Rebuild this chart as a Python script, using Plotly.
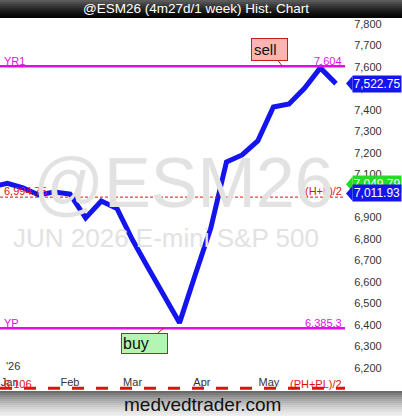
import plotly.graph_objects as go

# ---- data ----
week_dates = ["2025-12-28", "2026-01-04", "2026-01-11", "2026-01-18", "2026-01-25",
              "2026-02-01", "2026-02-08", "2026-02-15", "2026-02-22", "2026-03-01",
              "2026-03-08", "2026-03-15", "2026-03-22", "2026-03-29", "2026-04-05",
              "2026-04-12", "2026-04-19", "2026-04-26", "2026-05-03", "2026-05-10",
              "2026-05-17", "2026-05-24", "2026-05-31"]
closes = [7042, 7059, 7038, 7005, 7019, 7009, 6898, 6977, 6942, 6795, 6665, 6535,
          6410, 6633, 6851, 7158, 7191, 7256, 7414, 7428, 7502, 7596, 7522.75]

month_tick_dates = ["2026-01-05", "2026-02-01", "2026-03-01", "2026-04-01", "2026-05-01", "2026-06-01"]
month_tick_text = ["Jan", "Feb", "Mar", "Apr", "May", "Jun"]
price_ticks = [6200, 6300, 6400, 6500, 6600, 6700, 6800, 6900, 7000, 7100,
               7200, 7300, 7400, 7500, 7600, 7700, 7800]

yr1_value = 7604
yp_value = 6385.3
hl2_value = 6994.75
phpl2_value = 6106
last_value = 7522.75
tag2_value = 7011.93
tag3_value = 7049.79
sell_date, buy_date = "2026-05-07", "2026-03-15"

Y_RANGE = [6093, 7828]
X_RANGE = ["2025-12-31 16:30", "2026-06-04 01:00"]
PLOT_W, PLOT_H = 345, 373
UPP = (Y_RANGE[1] - Y_RANGE[0]) / PLOT_H  # price units per px

FONT = "Liberation Sans, Arial, sans-serif"
MAGENTA = "#e010e0"
RED = "#e01010"

fig = go.Figure()
fig.add_trace(go.Scatter(x=week_dates, y=closes, mode="lines",
                         line=dict(color="#1414ee", width=5), hoverinfo="skip"))

shapes = []
annotations = []

# title bar gradient
top_cols = ["#5a5a5a", "#4c4c4c", "#3e3e3e", "#323232", "#262626", "#1c1c1c", "#121212", "#0a0a0a", "#040404"]
for i, c in enumerate(top_cols):
    y0 = 1 + (18 - 2 * (i + 1)) / PLOT_H
    y1 = 1 + (18 - 2 * i) / PLOT_H
    shapes.append(dict(type="rect", xref="paper", yref="paper", x0=0, x1=402 / PLOT_W,
                       y0=y0, y1=y1, fillcolor=c, line=dict(width=0), layer="above"))
# footer gradient
foot_cols = ["#6a6a6a", "#7c7c7c", "#8c8c8c", "#9a9a9a", "#a8a8a8", "#b4b4b4", "#c0c0c0",
             "#cacaca", "#d4d4d4", "#dcdcdc", "#e4e4e4", "#eaeaea", "#f0f0f0"]
for i, c in enumerate(foot_cols):
    y1 = -(2 * i) / PLOT_H
    y0 = -(2 * (i + 1)) / PLOT_H
    shapes.append(dict(type="rect", xref="paper", yref="paper", x0=0, x1=402 / PLOT_W,
                       y0=y0, y1=y1, fillcolor=c, line=dict(width=0), layer="above"))

# horizontal level lines
shapes.append(dict(type="line", xref="paper", yref="y", x0=0, x1=1, y0=yr1_value, y1=yr1_value,
                   line=dict(color=MAGENTA, width=2.5)))
shapes.append(dict(type="line", xref="paper", yref="y", x0=0, x1=1, y0=yp_value, y1=yp_value,
                   line=dict(color=MAGENTA, width=2.5)))
shapes.append(dict(type="line", xref="paper", yref="y", x0=0, x1=1, y0=hl2_value, y1=hl2_value,
                   line=dict(color=RED, width=1, dash="3px,2px")))
shapes.append(dict(type="line", xref="paper", yref="y", x0=0, x1=1, y0=phpl2_value, y1=phpl2_value,
                   line=dict(color=RED, width=3, dash="12px,12px")))

def lvl_label(text, value, color, left, yshift=-2):
    annotations.append(dict(text=text, xref="paper", yref="y", x=(3 / PLOT_W) if left else (343 / PLOT_W),
                            xanchor="left" if left else "right", y=value, yanchor="bottom",
                            yshift=yshift, showarrow=False, borderpad=0,
                            font=dict(family=FONT, size=11, color=color)))

lvl_label("YR1", yr1_value, MAGENTA, True)
lvl_label(f"{yr1_value:,}", yr1_value, MAGENTA, False)
lvl_label("YP", yp_value, MAGENTA, True)
lvl_label(f"{yp_value:,}", yp_value, MAGENTA, False)
lvl_label(f"{hl2_value:,.2f}", hl2_value, RED, True, -1)
lvl_label("(H+L)/2", hl2_value, RED, False, -1)
lvl_label(f"{phpl2_value:,}", phpl2_value, RED, True, -3)
lvl_label("(PH+PL)/2", phpl2_value, RED, False, -3)

# watermark
annotations.append(dict(text="@ESM26", xref="paper", yref="paper", x=183 / PLOT_W, y=(391 - 183) / PLOT_H,
                        xanchor="center", yanchor="middle", showarrow=False,
                        font=dict(family=FONT, size=70, color="#e2e2e2")))
annotations.append(dict(text="JUN 2026 E-mini S&P 500", xref="paper", yref="paper", x=166 / PLOT_W,
                        y=(391 - 238) / PLOT_H, xanchor="center", yanchor="middle", showarrow=False,
                        font=dict(family=FONT, size=26, color="#e2e2e2")))

# title & footer text
annotations.append(dict(text="@ESM26 (4m27d/1 week) Hist. Chart", xref="paper", yref="paper",
                        x=196 / PLOT_W, y=1 + 9 / PLOT_H, xanchor="center", yanchor="middle",
                        showarrow=False, font=dict(family=FONT, size=13.5, color="white")))
annotations.append(dict(text="medvedtrader.com", xref="paper", yref="paper",
                        x=202 / PLOT_W, y=-13 / PLOT_H, xanchor="center", yanchor="middle",
                        showarrow=False, font=dict(family=FONT, size=19, color="#111111")))
annotations.append(dict(text="'26", xref="paper", yref="paper", x=4 / PLOT_W, y=(391 - 366) / PLOT_H,
                        xanchor="left", yanchor="middle", showarrow=False,
                        font=dict(family=FONT, size=11, color="#333333")))

# callouts
annotations.append(dict(text="sell", x=sell_date, y=yr1_value, xref="x", yref="y", showarrow=True,
                        ax=-13, ay=-17, arrowhead=0, arrowwidth=1, arrowcolor="#c02020",
                        bgcolor="#ffb4b4", bordercolor="#c02020", borderwidth=1, borderpad=2,
                        width=31, align="left",
                        font=dict(family=FONT, size=15, color="#111111")))
annotations.append(dict(text="buy", x=buy_date, y=yp_value, xref="x", yref="y", showarrow=True,
                        ax=-19, ay=15, arrowhead=0, arrowwidth=1, arrowcolor="#c02020",
                        bgcolor="#b4f5b4", bordercolor="#c02020", borderwidth=1, borderpad=1,
                        width=43, align="left",
                        font=dict(family=FONT, size=16, color="#111111")))

# right-side price tags
def tag(value, text, color, yshift=0):
    yc = value + yshift * UPP
    half = 7.5 * UPP
    shapes.append(dict(type="path", xref="paper", yref="y",
                       path=f"M {346 / PLOT_W},{yc} L {352.5 / PLOT_W},{yc + half} L {352.5 / PLOT_W},{yc - half} Z",
                       fillcolor=color, line=dict(width=0), layer="above"))
    annotations.append(dict(text=text, xref="paper", yref="y", x=352 / PLOT_W, y=value, yshift=yshift,
                            xanchor="left", yanchor="middle", showarrow=False, bgcolor=color,
                            borderpad=1, width=46, align="center",
                            font=dict(family=FONT, size=12, color="white")))

tag(tag3_value, f"{tag3_value:,.2f}", "#22dd22", 1)
tag(tag2_value, f"{tag2_value:,.2f}", "#1414ee")
tag(last_value, f"{last_value:,.2f}", "#1414ee")

fig.update_layout(
    width=402, height=416, margin=dict(l=0, r=57, t=18, b=25),
    paper_bgcolor="white", plot_bgcolor="white", showlegend=False,
    shapes=shapes, annotations=annotations,
    xaxis=dict(type="date", range=X_RANGE, showgrid=False, zeroline=False, showline=False,
               tickvals=month_tick_dates, ticktext=month_tick_text, ticks="",
               ticklabelposition="inside", tickfont=dict(family=FONT, size=11, color="#333333"),
               fixedrange=True),
    yaxis=dict(side="right", range=Y_RANGE, showgrid=False, zeroline=False, showline=False,
               tickvals=price_ticks, ticktext=[f"{v:,}" for v in price_ticks],
               ticks="outside", ticklen=6, tickcolor="rgba(0,0,0,0)",
               tickfont=dict(family=FONT, size=11, color="#333333"), fixedrange=True),
)

fig.write_html("out.html", config={"displayModeBar": False},
               post_script="document.body.style.margin='0';document.body.style.padding='0';")
